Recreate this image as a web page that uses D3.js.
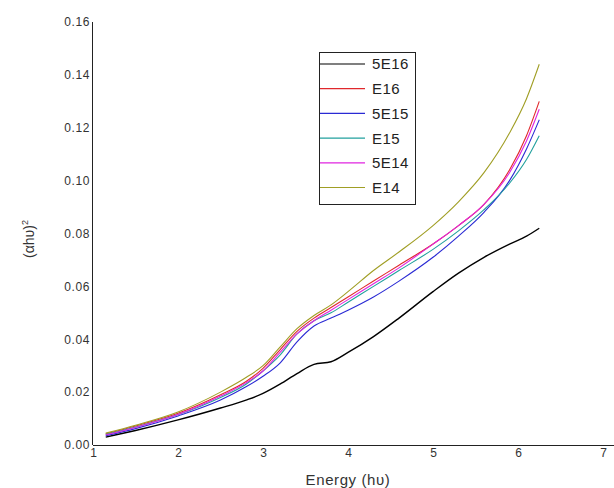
<!DOCTYPE html>
<html>
<head>
<meta charset="utf-8">
<script src="https://cdn.jsdelivr.net/npm/d3@7"></script>
<style>
  body { margin: 0; background: #fff; }
  svg { display: block; font-family: "Liberation Sans", Arial, sans-serif; }
</style>
</head>
<body>
<svg id="chart"></svg>
<script>
(function() {

// energy values (x) shared by every series
const energy = [1.15, 1.5, 2.0, 2.5, 2.8, 3.0, 3.2, 3.4, 3.6, 3.8, 4.0, 4.3, 4.6, 5.0, 5.3, 5.6, 5.9, 6.1, 6.25];

const s5E16 = [0.003, 0.0055, 0.0095, 0.014, 0.017, 0.0195, 0.023, 0.027, 0.0305, 0.0315, 0.035, 0.041, 0.048, 0.058, 0.065, 0.071, 0.076, 0.079, 0.082];
const sE16  = [0.0042, 0.0072, 0.012, 0.019, 0.024, 0.029, 0.036, 0.043, 0.048, 0.052, 0.056, 0.062, 0.068, 0.076, 0.083, 0.091, 0.104, 0.117, 0.130];
const s5E15 = [0.0035, 0.0062, 0.011, 0.017, 0.022, 0.026, 0.031, 0.039, 0.045, 0.048, 0.051, 0.056, 0.062, 0.071, 0.079, 0.088, 0.100, 0.112, 0.123];
const sE15  = [0.004, 0.0068, 0.0115, 0.018, 0.023, 0.028, 0.034, 0.042, 0.047, 0.050, 0.054, 0.060, 0.066, 0.074, 0.081, 0.089, 0.099, 0.108, 0.117];
const s5E14 = [0.0038, 0.0066, 0.0115, 0.0185, 0.0235, 0.028, 0.035, 0.042, 0.047, 0.051, 0.055, 0.061, 0.067, 0.076, 0.083, 0.091, 0.103, 0.115, 0.127];
const sE14  = [0.0045, 0.0075, 0.0125, 0.020, 0.0255, 0.030, 0.037, 0.044, 0.049, 0.053, 0.058, 0.066, 0.073, 0.083, 0.092, 0.103, 0.118, 0.131, 0.144];

const seriesNames = ["5E16", "E16", "5E15", "E15", "5E14", "E14"];
const seriesValues = [s5E16, sE16, s5E15, sE15, s5E14, sE14];
const seriesColors = ["#000000", "#e0282c", "#2a2ad4", "#22a09e", "#e024e0", "#a09e24"];

const xTicks = [1, 2, 3, 4, 5, 6, 7];
const yTicks = [0, 0.02, 0.04, 0.06, 0.08, 0.10, 0.12, 0.14, 0.16];

const W = 614, H = 488;
const margin = { top: 22, right: 11, bottom: 43, left: 93 };
const width = W - margin.left - margin.right;
const height = H - margin.top - margin.bottom;

const svg = d3.select("#chart").attr("width", W).attr("height", H);
const g = svg.append("g").attr("transform", `translate(${margin.left},${margin.top})`);

const x = d3.scaleLinear().domain([1, 7]).range([0, width]);
const y = d3.scaleLinear().domain([0, 0.16]).range([height, 0]);

// x axis - line runs on to the right edge
const xAxis = g.append("g")
    .attr("transform", `translate(0,${height})`)
    .call(d3.axisBottom(x).tickValues(xTicks).tickSize(0).tickPadding(3).tickFormat(d3.format("d")));
xAxis.select(".domain").attr("d", `M0,0.5H${W - margin.left}`).attr("stroke", "#222");
xAxis.selectAll("text").attr("font-size", 12).attr("fill", "#333").attr("font-family", "Liberation Sans, Arial, sans-serif");

// y axis
const yAxis = g.append("g")
    .call(d3.axisLeft(y).tickValues(yTicks).tickSize(0).tickPadding(3).tickFormat(d3.format(".2f")));
yAxis.select(".domain").attr("d", `M-0.5,0V${height}`).attr("stroke", "#222");
yAxis.selectAll("text").attr("font-size", 12).attr("fill", "#333")
    .attr("letter-spacing", "0.6px").attr("font-family", "Liberation Sans, Arial, sans-serif");

// series lines
const line = d3.line()
    .x((d, i) => x(energy[i]))
    .y(d => y(d))
    .curve(d3.curveMonotoneX);

seriesValues.forEach((vals, k) => {
    g.append("path")
        .datum(vals)
        .attr("fill", "none")
        .attr("stroke", seriesColors[k])
        .attr("stroke-width", k === 0 ? 1.4 : 1.1)
        .attr("d", line);
});

// legend
const lg = { x: 319, y: 52, w: 96, h: 152, row: 24.7, lineLen: 46 };
const legend = svg.append("g");
legend.append("rect")
    .attr("x", lg.x + 0.5).attr("y", lg.y + 0.5)
    .attr("width", lg.w).attr("height", lg.h)
    .attr("fill", "#fff")
    .attr("stroke", "#222");
seriesNames.forEach((name, k) => {
    const yy = lg.y + 12 + k * lg.row;
    legend.append("line")
        .attr("x1", lg.x + 1).attr("x2", lg.x + lg.lineLen)
        .attr("y1", yy).attr("y2", yy)
        .attr("stroke", seriesColors[k]).attr("stroke-width", 1.2);
    legend.append("text")
        .attr("x", lg.x + 53).attr("y", yy)
        .attr("dy", "0.36em")
        .attr("font-size", 15)
        .attr("letter-spacing", "0.4px")
        .attr("fill", "#222")
        .text(name);
});

// axis titles
svg.append("text")
    .attr("x", 348).attr("y", 485)
    .attr("text-anchor", "middle")
    .attr("font-size", 15)
    .attr("letter-spacing", "0.6px")
    .attr("fill", "#333")
    .text("Energy (h\u03c5)");

const yl = svg.append("text")
    .attr("transform", "translate(34,239) rotate(-90)")
    .attr("text-anchor", "middle")
    .attr("font-size", 14)
    .attr("fill", "#333");
yl.append("tspan").text("(\u03b1h\u03c5)");
yl.append("tspan").attr("font-size", 9).attr("dy", "-0.7em").text("2");

})();
</script>
</body>
</html>
